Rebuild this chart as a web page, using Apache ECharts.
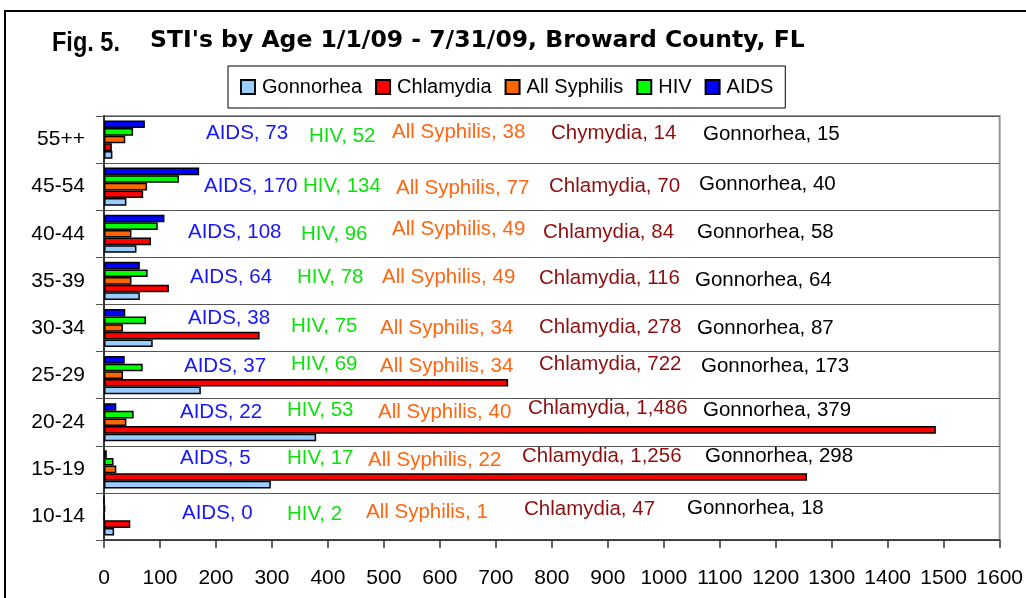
<!DOCTYPE html>
<html>
<head>
<meta charset="utf-8">
<script src="https://cdn.jsdelivr.net/npm/echarts@6/dist/echarts.min.js"></script>
<style>
html,body{margin:0;padding:0;background:#fff;}
#chart{width:1026px;height:598px;}
</style>
</head>
<body>
<div id="chart"></div>
<script>
// ---- data (top row first) ----
const categories = ['55++', '45-54', '40-44', '35-39', '30-34', '25-29', '20-24', '15-19', '10-14'];
const gonorrhea  = [15, 40, 58, 64, 87, 173, 379, 298, 18];
const chlamydia  = [14, 70, 84, 116, 278, 722, 1486, 1256, 47];
const syphilis   = [38, 77, 49, 49, 34, 34, 40, 22, 1];
const hiv        = [52, 134, 96, 78, 75, 69, 53, 17, 2];
const aids       = [73, 170, 108, 64, 38, 37, 22, 5, 0];
const chlamydiaLabelNames = ['Chymydia', 'Chlamydia', 'Chlamydia', 'Chlamydia', 'Chlamydia', 'Chlamydia', 'Chlamydia', 'Chlamydia', 'Chlamydia'];
const xMin = 0, xMax = 1600, xStep = 100;

// ---- layout of the hand-placed data labels (pixel anchors: left, middle) ----
const labelAnchors = {
  AIDS:  [[206,133],[204,186],[188,232],[190,277],[188,318],[184,366],[180,412],[180,458],[182,513]],
  HIV:   [[309,136],[303,186],[301,234],[297,277],[291,326],[291,364],[287,410],[287,458],[287,514]],
  SYPH:  [[392,132],[396,188],[392,229],[382,277],[380,328],[380,366],[378,412],[368,460],[366,512]],
  CHLAM: [[551,133],[549,186],[543,232],[539,278],[539,327],[539,364],[528,408],[522,456],[524,509]],
  GON:   [[703,134],[699,184],[697,232],[695,280],[697,328],[701,366],[703,410],[705,456],[687,508]]
};

const FONT = "'Liberation Sans', Arial, sans-serif";
const fmt = v => v.toLocaleString('en-US');

function mkSeries(name, key, data, color, labelColor, labelNameFn) {
  return {
    name: name,
    type: 'bar',
    data: data,
    barGap: 0,
    barCategoryGap: '19%',
    itemStyle: { color: color, borderColor: '#000', borderWidth: 1.5 },
    label: {
      show: true,
      color: labelColor,
      fontFamily: FONT,
      fontSize: 20.5,
      formatter: p => (labelNameFn ? labelNameFn(p.dataIndex) : name) + ', ' + fmt(p.value)
    },
    labelLayout: p => {
      const a = labelAnchors[key][p.dataIndex];
      return { x: a[0], y: a[1], align: 'left', verticalAlign: 'middle' };
    },
    emphasis: { disabled: true },
    animation: false
  };
}

const chart = echarts.init(document.getElementById('chart'), null, { renderer: 'canvas' });
chart.setOption({
  backgroundColor: '#fff',
  animation: false,
  title: [
    { text: "STI's by Age 1/1/09 - 7/31/09, Broward County, FL", left: 145, top: 24,
      textStyle: { fontFamily: "'DejaVu Sans', Verdana, sans-serif", fontWeight: 'bold', fontSize: 23.5, color: '#000' } }
  ],
  graphic: [
    { type: 'rect', silent: true, z: -1,
      shape: { x: 5, y: 11, width: 1200, height: 800 },
      style: { fill: null, stroke: '#000', lineWidth: 2 } },
    { type: 'text', silent: true, x: 52, y: 43, scaleX: 0.84,
      style: { text: 'Fig. 5.', fill: '#000', font: "bold 28px 'Liberation Sans', Arial, sans-serif",
               textAlign: 'left', textVerticalAlign: 'middle' } }
  ],
  legend: {
    data: ['Gonnorhea', 'Chlamydia', 'All Syphilis', 'HIV', 'AIDS'],
    left: 228, top: 66,
    padding: [11, 12],
    itemGap: 13,
    itemWidth: 14, itemHeight: 14,
    icon: 'rect',
    borderColor: '#000', borderWidth: 1,
    backgroundColor: '#fff',
    textStyle: { fontFamily: FONT, fontSize: 20, color: '#000', padding: [0, 0, 0, 2] }
  },
  grid: {
    left: 104, right: 26, top: 116, bottom: 58,
    show: true, borderColor: '#999', borderWidth: 2, backgroundColor: 'transparent'
  },
  xAxis: {
    type: 'value', min: xMin, max: xMax, interval: xStep,
    axisLine: { show: true, lineStyle: { color: '#333', width: 1.5 } },
    axisTick: { show: true, length: 8, lineStyle: { color: '#333', width: 1.5 } },
    axisLabel: { margin: 28, fontFamily: FONT, fontSize: 21, color: '#000', formatter: v => String(v) },
    splitLine: { show: false }
  },
  yAxis: {
    type: 'category', data: categories, inverse: true,
    axisLine: { show: true, lineStyle: { color: '#333', width: 2 } },
    axisTick: { show: true, length: 8, lineStyle: { color: '#555', width: 1 } },
    axisLabel: { margin: 19, fontFamily: FONT, fontSize: 21, color: '#000' },
    splitLine: { show: true, lineStyle: { color: '#555', width: 1 } }
  },
  series: [
    mkSeries('AIDS', 'AIDS', aids, '#0000FF', '#1515FF'),
    mkSeries('HIV', 'HIV', hiv, '#00FF00', '#10E010'),
    mkSeries('All Syphilis', 'SYPH', syphilis, '#FF6600', '#FF6611'),
    mkSeries('Chlamydia', 'CHLAM', chlamydia, '#FF0000', '#8E0E0E', i => chlamydiaLabelNames[i]),
    mkSeries('Gonnorhea', 'GON', gonorrhea, '#99CCFF', '#000000')
  ]
});
</script>
</body>
</html>
